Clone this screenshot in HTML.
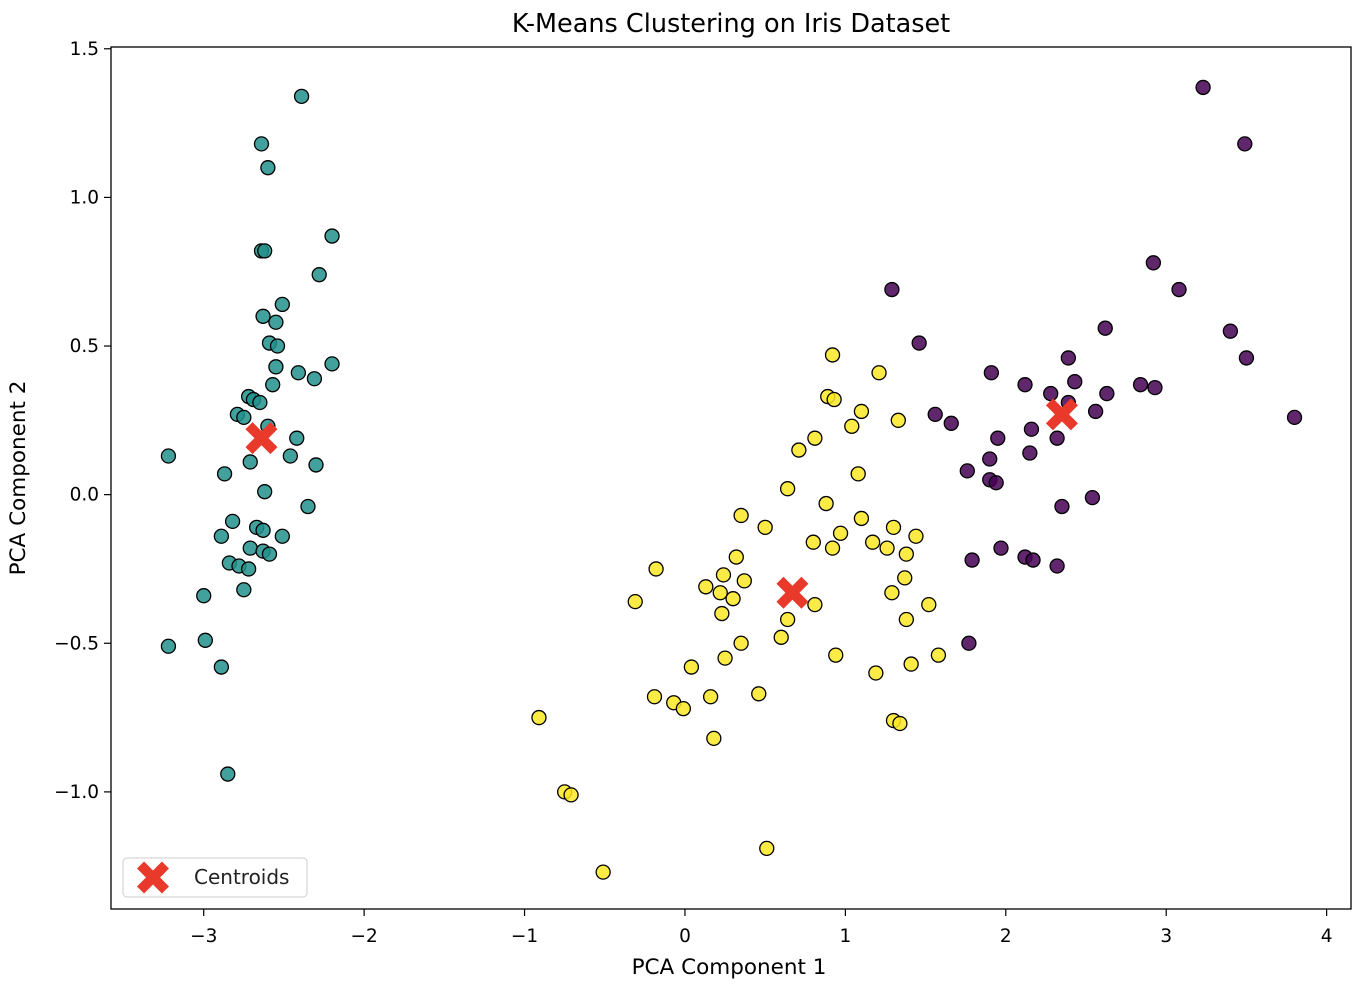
<!DOCTYPE html>
<html><head><meta charset="utf-8"><style>
html,body{margin:0;padding:0;background:#fff}
svg{display:block;font-family:"DejaVu Sans","Liberation Sans",sans-serif}
</style></head><body>
<svg id="chart" width="1362" height="990" viewBox="0 0 1362 990">
<text x="731" y="32" text-anchor="middle" font-size="25.5" fill="#000">K-Means Clustering on Iris Dataset</text>
<text x="729" y="974" text-anchor="middle" font-size="21.5" fill="#000">PCA Component 1</text>
<text transform="translate(25,478) rotate(-90)" text-anchor="middle" font-size="21.5" fill="#000">PCA Component 2</text>
<g id="plot"></g>
</svg>
<script>
const clusterTeal = [[-2.39,1.34],[-2.64,1.18],[-2.60,1.10],[-2.20,0.87],[-2.64,0.82],[-2.62,0.82],[-2.28,0.74],[-2.51,0.64],[-2.63,0.60],[-2.55,0.58],[-2.59,0.51],[-2.54,0.50],[-2.55,0.43],[-2.20,0.44],[-2.41,0.41],[-2.31,0.39],[-2.57,0.37],[-2.72,0.33],[-2.69,0.32],[-2.65,0.31],[-2.79,0.27],[-2.75,0.26],[-2.60,0.23],[-2.42,0.19],[-2.71,0.11],[-2.46,0.13],[-2.30,0.10],[-3.22,0.13],[-2.87,0.07],[-2.62,0.01],[-2.35,-0.04],[-2.82,-0.09],[-2.67,-0.11],[-2.63,-0.12],[-2.89,-0.14],[-2.51,-0.14],[-2.71,-0.18],[-2.63,-0.19],[-2.59,-0.20],[-2.84,-0.23],[-2.78,-0.24],[-2.72,-0.25],[-2.75,-0.32],[-3.00,-0.34],[-3.22,-0.51],[-2.99,-0.49],[-2.89,-0.58],[-2.85,-0.94]];
const clusterPurple = [[3.23,1.37],[3.49,1.18],[2.92,0.78],[3.08,0.69],[1.29,0.69],[2.62,0.56],[3.40,0.55],[1.46,0.51],[2.39,0.46],[3.50,0.46],[1.91,0.41],[2.43,0.38],[2.84,0.37],[2.12,0.37],[2.93,0.36],[2.63,0.34],[2.28,0.34],[2.39,0.31],[1.56,0.27],[2.56,0.28],[3.80,0.26],[1.66,0.24],[2.16,0.22],[1.95,0.19],[2.32,0.19],[1.90,0.12],[2.15,0.14],[1.76,0.08],[1.90,0.05],[1.94,0.04],[2.54,-0.01],[2.35,-0.04],[1.97,-0.18],[1.79,-0.22],[2.12,-0.21],[2.17,-0.22],[2.32,-0.24],[1.77,-0.50]];
const clusterYellow = [[0.92,0.47],[1.21,0.41],[0.89,0.33],[0.93,0.32],[1.10,0.28],[1.33,0.25],[1.04,0.23],[0.81,0.19],[0.71,0.15],[1.08,0.07],[0.64,0.02],[0.88,-0.03],[0.35,-0.07],[1.10,-0.08],[0.50,-0.11],[1.30,-0.11],[0.97,-0.13],[1.44,-0.14],[0.80,-0.16],[1.17,-0.16],[1.26,-0.18],[0.92,-0.18],[1.38,-0.20],[0.32,-0.21],[-0.18,-0.25],[0.24,-0.27],[1.37,-0.28],[0.37,-0.29],[0.13,-0.31],[0.22,-0.33],[1.29,-0.33],[0.30,-0.35],[-0.31,-0.36],[0.81,-0.37],[1.52,-0.37],[0.23,-0.40],[0.64,-0.42],[1.38,-0.42],[0.60,-0.48],[0.35,-0.50],[1.58,-0.54],[0.25,-0.55],[0.94,-0.54],[1.41,-0.57],[0.04,-0.58],[1.19,-0.60],[0.46,-0.67],[-0.19,-0.68],[0.16,-0.68],[-0.07,-0.70],[-0.01,-0.72],[-0.91,-0.75],[1.30,-0.76],[1.34,-0.77],[0.18,-0.82],[-0.75,-1.00],[-0.71,-1.01],[0.51,-1.19],[-0.51,-1.27]];
const centroids = [[-2.64,0.19],[0.67,-0.33],[2.35,0.27]];
const xTicks = [-3,-2,-1,0,1,2,3,4];
const yTicks = [-1.0,-0.5,0.0,0.5,1.0,1.5];

const NS='http://www.w3.org/2000/svg';
const L=111,R=1351,T=47,B=909;
const xMin=-3.578,xMax=4.152,yMin=-1.394,yMax=1.506;
const sx=v=>L+(v-xMin)/(xMax-xMin)*(R-L);
const sy=v=>B-(v-yMin)/(yMax-yMin)*(B-T);
const g=document.getElementById('plot');
function mk(tag,attrs,parent){const e=document.createElementNS(NS,tag);for(const k in attrs)e.setAttribute(k,attrs[k]);(parent||g).appendChild(e);return e;}
xTicks.forEach(t=>{
  const x=sx(t);
  const l=mk('line',{x1:x,x2:x,y1:B,y2:B+7,stroke:'#000','stroke-width':1.2});
  
  
  const tx=mk('text',{x:x,y:B+33,'text-anchor':'middle','font-size':18.5,fill:'#000'});
  tx.textContent=(t<0?'\u2212':'')+Math.abs(t);
  
  
});
yTicks.forEach(t=>{
  const y=sy(t);
  const l=mk('line',{x1:L-7,x2:L,y1:y,y2:y,stroke:'#000','stroke-width':1.2});
  
  
  const tx=mk('text',{x:L-12,y:y+6,'text-anchor':'end','font-size':18.5,fill:'#000'});
  tx.textContent=(t<0?'\u2212':'')+Math.abs(t).toFixed(1);
  
  
});
function drawCluster(arr,color,name){
  arr.forEach(p=>{
    const c=mk('circle',{cx:sx(p[0]),cy:sy(p[1]),r:7,fill:color,'fill-opacity':0.85,stroke:'#000','stroke-width':1.3});
    
    
  });
}
drawCluster(clusterTeal,'#21918c','point-cluster-1');
drawCluster(clusterYellow,'#fde725','point-cluster-2');
drawCluster(clusterPurple,'#440154','point-cluster-0');
function xMark(cx,cy,s,parent){
  const a=s*0.44,b=s;
  const pts=[[-b,-b+a],[-b+a,-b],[0,-a],[b-a,-b],[b,-b+a],[a,0],[b,b-a],[b-a,b],[0,a],[-b+a,b],[-b,b-a],[-a,0]];
  return mk('polygon',{points:pts.map(p=>(cx+p[0])+','+(cy+p[1])).join(' '),fill:'#e8392b'},parent);
}
centroids.forEach(p=>{
  const m=xMark(sx(p[0]),sy(p[1]),16);
  
  
});
const frame=mk('rect',{x:L,y:T,width:R-L,height:B-T,fill:'none',stroke:'#000','stroke-width':1.3});


const lg=mk('g',{});


mk('rect',{x:123,y:858,width:184,height:39,rx:4,fill:'#fff','fill-opacity':0.8,stroke:'#ccc','stroke-width':1},lg);
const lm=xMark(153,877.5,16,lg);


const lt=mk('text',{x:194,y:884,'font-size':20,fill:'#222'},lg);
lt.textContent='Centroids';


</script>
</body></html>
